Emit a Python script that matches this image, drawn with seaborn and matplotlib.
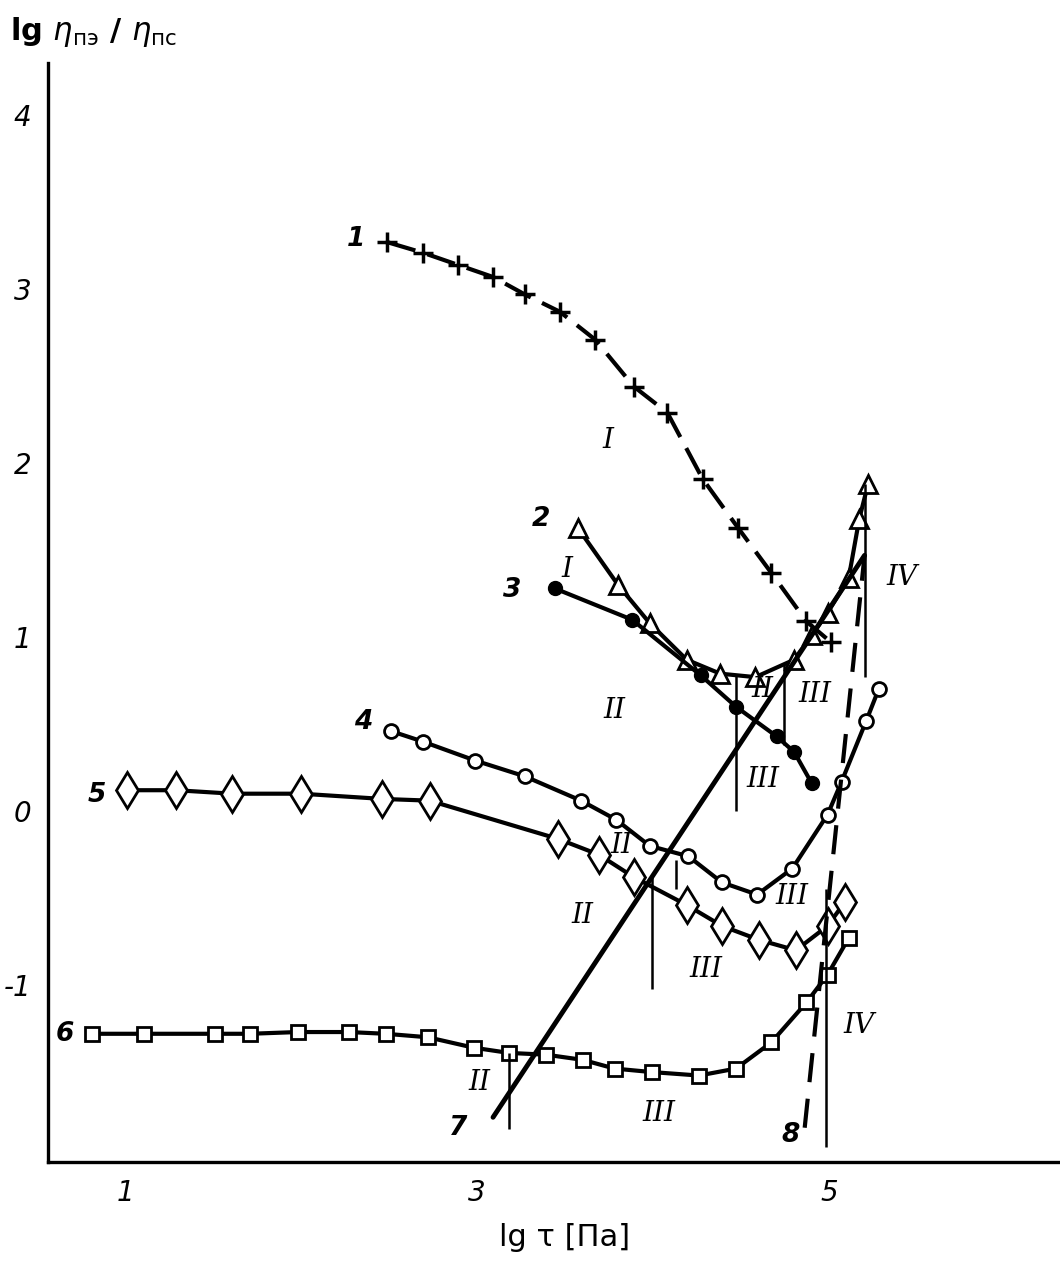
import matplotlib
matplotlib.use("Agg")
import matplotlib.pyplot as plt
import seaborn as sns

# curve 1 (+, dashed)
x1 = [2.49, 2.69, 2.89, 3.09, 3.27, 3.47, 3.67, 3.89, 4.08, 4.28, 4.48, 4.67, 4.87, 5.01]
y1 = [3.27, 3.21, 3.14, 3.07, 2.97, 2.87, 2.71, 2.44, 2.29, 1.91, 1.63, 1.37, 1.09, 0.97]
# curve 2 (open triangles)
x2 = [3.57, 3.80, 3.98, 4.19, 4.38, 4.58, 4.80, 4.90, 4.99, 5.11, 5.17, 5.22]
y2 = [1.63, 1.30, 1.08, 0.87, 0.79, 0.77, 0.87, 1.01, 1.14, 1.34, 1.68, 1.88]
# curve 3 (filled circles)
x3 = [3.44, 3.88, 4.27, 4.47, 4.70, 4.80, 4.90]
y3 = [1.28, 1.10, 0.78, 0.60, 0.43, 0.34, 0.16]
# curve 4 (open circles)
x4 = [2.51, 2.69, 2.99, 3.27, 3.59, 3.79, 3.98, 4.20, 4.39, 4.59, 4.79, 4.99, 5.07, 5.21, 5.28]
y4 = [0.46, 0.40, 0.29, 0.20, 0.06, -0.05, -0.20, -0.26, -0.41, -0.48, -0.33, -0.02, 0.17, 0.52, 0.70]
# curve 5 (diamonds)
x5 = [1.01, 1.29, 1.61, 2.00, 2.46, 2.73, 3.46, 3.69, 3.89, 4.19, 4.39, 4.60, 4.81, 4.99, 5.09]
y5 = [0.12, 0.12, 0.10, 0.10, 0.07, 0.06, -0.16, -0.25, -0.38, -0.54, -0.66, -0.74, -0.80, -0.66, -0.52]
# curve 6 (squares)
x6 = [0.81, 1.11, 1.51, 1.71, 1.98, 2.27, 2.48, 2.72, 2.98, 3.18, 3.39, 3.60, 3.78, 3.99,
      4.26, 4.47, 4.67, 4.87, 4.99, 5.11]
y6 = [-1.28, -1.28, -1.28, -1.28, -1.27, -1.27, -1.28, -1.30, -1.36, -1.39, -1.40, -1.43, -1.48, -1.50,
      -1.52, -1.48, -1.33, -1.10, -0.94, -0.73]
# straight lines 7 and 8
x7 = [3.09, 5.20]
y7 = [-1.76, 1.47]
x8 = [4.86, 5.20]
y8 = [-1.82, 1.47]
# thin boundary lines between regions
bx = [3.18, 3.99, 4.13, 4.47, 4.74, 4.98, 5.20]
by_lo = [-1.83, -1.02, -0.45, 0.00, 0.38, -1.93, 0.77]
by_hi = [-1.39, -0.38, -0.28, 0.79, 0.85, -0.45, 1.88]

sns.set_style("white")
plt.rcParams['font.family'] = ['DejaVu Sans']
plt.rcParams['text.color'] = 'black'
plt.rcParams['xtick.color'] = 'black'
plt.rcParams['ytick.color'] = 'black'

fig = plt.figure(figsize=(10.6, 12.66), dpi=100)
ax = fig.add_axes([48/1060, 1 - 1162/1266, 1012/1060, 1099/1266])

lw = 3
mk = dict(markeredgecolor='black', markeredgewidth=2, markerfacecolor='white')
sns.lineplot(x=x1, y=y1, ax=ax, color='black', lw=lw, linestyle=(0, (7, 3)), marker='+',
             markersize=15, markeredgewidth=2.5, markeredgecolor='black', sort=False, estimator=None)
sns.lineplot(x=x2, y=y2, ax=ax, color='black', lw=lw, marker='^', markersize=13, sort=False, estimator=None, **mk)
sns.lineplot(x=x3, y=y3, ax=ax, color='black', lw=lw, marker='o', markersize=10, markerfacecolor='black',
             markeredgecolor='black', markeredgewidth=1, sort=False, estimator=None)
sns.lineplot(x=x4, y=y4, ax=ax, color='black', lw=lw, marker='o', markersize=10, sort=False, estimator=None, **mk)
sns.lineplot(x=x5, y=y5, ax=ax, color='black', lw=lw, marker='d', markersize=18, sort=False, estimator=None, **mk)
sns.lineplot(x=x6, y=y6, ax=ax, color='black', lw=lw, marker='s', markersize=10, sort=False, estimator=None, **mk)
sns.lineplot(x=x7, y=y7, ax=ax, color='black', lw=3.5, sort=False, estimator=None)
sns.lineplot(x=x8, y=y8, ax=ax, color='black', lw=3, linestyle=(0, (7, 4)), sort=False, estimator=None)
ax.vlines(bx, by_lo, by_hi, color='black', lw=1.8)

ax.set_xlim(0.5625, 6.31)
ax.set_ylim(-2.017, 4.30)
sns.despine(ax=ax)
for s in ['left', 'bottom']:
    ax.spines[s].set_linewidth(2.4)
    ax.spines[s].set_color('black')

ax.set_xticks([1, 2, 3, 4, 5, 6])
ax.set_xticklabels(['1', '', '3', '', '5', ''])
ax.set_yticks([-1, 0, 1, 2, 3, 4])
ax.set_yticklabels(['-1', '0', '1', '2', '3', '4'])
ax.tick_params(direction='in', length=15, width=2, colors='black', labelsize=20, pad=12)
for t in ax.get_xticklabels() + ax.get_yticklabels():
    t.set_fontstyle('italic')
    t.set_color('black')

# curve numbers
num = dict(fontsize=19, style='italic', fontweight='bold', ha='center', va='center', color='black')
ax.text(2.31, 3.29, '1', **num)
ax.text(3.36, 1.68, '2', **num)
ax.text(3.20, 1.27, '3', **num)
ax.text(2.35, 0.51, '4', **num)
ax.text(0.84, 0.09, '5', **num)
ax.text(0.66, -1.28, '6', **num)
ax.text(2.89, -1.82, '7', **num)
ax.text(4.78, -1.86, '8', **num)

# regime labels
rom = dict(fontsize=20, style='italic', family='DejaVu Serif', ha='center', va='center', color='black')
for px, py, s in [(3.74, 2.13, 'I'), (3.51, 1.39, 'I'), (3.78, 0.58, 'II'), (4.62, 0.70, 'II'),
                  (4.92, 0.67, 'III'), (4.62, 0.18, 'III'), (5.41, 1.34, 'IV'), (3.82, -0.20, 'II'),
                  (4.79, -0.49, 'III'), (3.60, -0.60, 'II'), (4.30, -0.91, 'III'), (5.17, -1.23, 'IV'),
                  (3.01, -1.56, 'II'), (4.03, -1.74, 'III')]:
    ax.text(px, py, s, **rom)

fig.text(10/1060, 1 - 32/1266, r'lg $\eta_{\mathrm{пэ}}$ / $\eta_{\mathrm{пс}}$', fontsize=22,
         fontweight='bold', ha='left', va='center', color='black')
fig.text(565/1060, 1 - 1237/1266, 'lg τ [Па]', fontsize=22, ha='center', va='center', color='black')

fig.savefig('out.png', dpi=100, facecolor='white')
